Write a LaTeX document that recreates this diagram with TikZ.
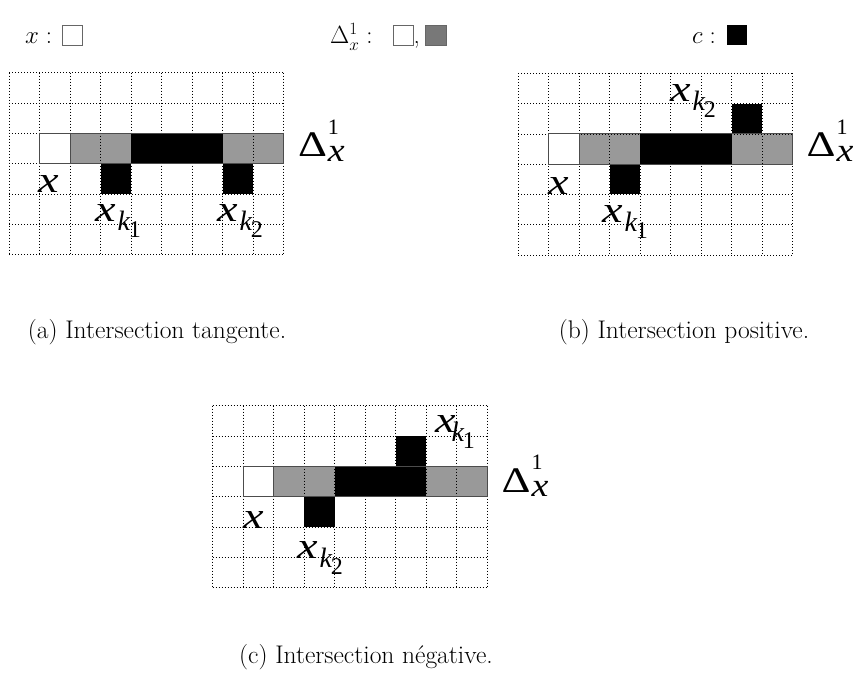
\documentclass[tikz,border=0pt]{standalone}
\usepackage{fontspec}
\usepackage{graphicx}
\newfontfamily\tms{Liberation Serif}
\newcommand\Lx{\scalebox{1.25}[1]{\tms\itshape\fontsize{37}{37}\selectfont x}}
\newcommand\Lxk[3]{\Lx\kern#3\raisebox{-9pt}{\tms\itshape\fontsize{28}{28}\selectfont k}\kern#2\raisebox{-16pt}{\tms\fontsize{24}{24}\selectfont #1}}
\newcommand\LDelta{\scalebox{1.25}[1]{\tms\fontsize{36}{36}\selectfont Δ}\kern1pt\rlap{\raisebox{22pt}{\tms\fontsize{22}{22}\selectfont 1}}\raisebox{-5pt}{\scalebox{1.15}[1]{\tms\itshape\fontsize{33}{33}\selectfont x}}}
\tikzset{
  gridline/.style={black, line width=0.75pt, dash pattern=on 0.9pt off 2.1pt},
  rowline/.style={black!70, line width=0.8pt},
  graycell/.style={fill=black!40},
  blackcell/.style={fill=black},
  lbl/.style={inner sep=0pt, outer sep=0pt, anchor=base west},
  captext/.style={inner sep=0pt, anchor=base, font=\fontsize{25.5}{25.5}\selectfont},
  leg/.style={inner sep=0pt, anchor=base west, font=\fontsize{25}{25}\selectfont},
  legbox/.style={draw=black!60, line width=0.9pt},
}
\newcommand\rowcells{%
  \fill[graycell] (2,2) rectangle (4,3);
  \fill[graycell] (7,2) rectangle (9,3);
  \fill[blackcell] (4,2) rectangle (7,3);
  \fill[blackcell] (3,3) rectangle (4,4);
}
\newcommand\gridover{%
  \foreach \i in {0,...,9} {\draw[gridline] (\i,0) -- (\i,6);}
  \foreach \j in {0,...,6} {\draw[gridline] (0,\j) -- (9,\j);}
  \fill[white] (1,2) rectangle (2,3);
  \draw[rowline] (1,2) rectangle (9,3);
  \draw[rowline] (2,2) -- (2,3);
}
\begin{document}
\begin{tikzpicture}[x=1pt,y=-1pt]
\fill[white] (0,0) rectangle (857,684);
\useasboundingbox (0,0) rectangle (857,684);

% legend
\node[leg] (lx) at (25,44) {$x:$};
\draw[legbox, fill=white] (62,25) rectangle (82,45);
\node[leg] (ld) at (330,44) {$\Delta_x^1:$};
\draw[legbox, fill=white] (393,25) rectangle (413,45);
\node[leg] (lcomma) at (413.5,44) {,};
\draw[legbox, fill=black!53] (425,25) rectangle (446,45);
\node[leg] (lc) at (692,44) {$c:$};
\fill[black] (727,25) rectangle (747,45);

% panel (a)
\begin{scope}[shift={(9.3,72.7)}, x=30.5pt, y=-30.3pt]
  \rowcells
  \fill[blackcell] (7,3) rectangle (8,4);
  \gridover
\end{scope}
\node[lbl] (ax) at (38,193) {\Lx};
\node[lbl] (ak1) at (95,222) {\Lxk{1}{-1pt}{2pt}};
\node[lbl] (ak2) at (217,222) {\Lxk{2}{-1pt}{2pt}};
\node[lbl] (ad) at (298,157) {\LDelta};
\node[captext] (capa) at (157,339) {(a) Intersection tangente.};

% panel (b)
\begin{scope}[shift={(518.3,73.3)}, x=30.5pt, y=-30.3pt]
  \rowcells
  \fill[blackcell] (7,1) rectangle (8,2);
  \gridover
\end{scope}
\node[lbl] (bx) at (548,195) {\Lx};
\node[lbl] (bk1) at (602,223) {\Lxk{1}{-1pt}{2pt}};
\node[lbl] (bk2) at (670,102) {\Lxk{2}{-1pt}{2pt}};
\node[lbl] (bd) at (806.7,157) {\LDelta};
\node[captext] (capb) at (684,339) {(b) Intersection positive.};

% panel (c)
\begin{scope}[shift={(212.7,405.7)}, x=30.5pt, y=-30.3pt]
  \rowcells
  \fill[blackcell] (6,1) rectangle (7,2);
  \gridover
\end{scope}
\node[lbl] (cx) at (243,528) {\Lx};
\node[lbl] (ck2) at (297,558) {\Lxk{2}{-1pt}{2pt}};
\node[lbl] (ck1) at (435,433) {\Lxk{1}{-1pt}{-4pt}};
\node[lbl] (cd) at (501.7,492) {\LDelta};
\node[captext] (capc) at (366,663) {(c) Intersection négative.};
\end{tikzpicture}
\end{document}
